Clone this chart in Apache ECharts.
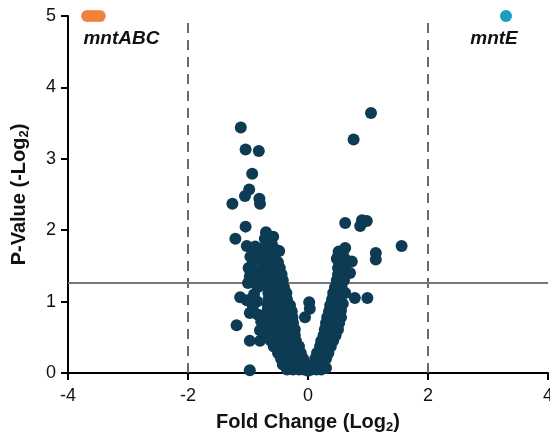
<!DOCTYPE html>
<html>
<head>
<meta charset="utf-8">
<script src="https://cdn.jsdelivr.net/npm/echarts@6/dist/echarts.min.js"></script>
<style>
  html, body { margin: 0; padding: 0; background: #fff; }
  #main { width: 550px; height: 437px; }
</style>
</head>
<body>
<div id="main"></div>
<script>
// x ticks / y ticks
const xTicks = [-4, -2, 0, 2, 4];
const yTicks = [0, 1, 2, 3, 4, 5];
const foldCutoffs = [-2, 2];
const pCutoff = 1.26;

// highlighted genes
const downGenes = [[-3.68, 5], [-3.61, 5], [-3.54, 5], [-3.47, 5]];
const downLabel = 'mntABC';
const upGenes = [[3.3, 5]];
const upLabel = 'mntE';

// scattered genes, upper left
const outLeft = [
  [-1.12, 3.44], [-1.04, 3.13], [-0.82, 3.11], [-0.93, 2.79], [-0.98, 2.57],
  [-1.05, 2.48], [-1.26, 2.37], [-0.81, 2.44], [-0.8, 2.37], [-1.04, 2.05],
  [-1.21, 1.88], [-1.02, 1.78], [-0.88, 1.77], [-0.7, 1.97], [-0.58, 1.91],
  [-0.48, 1.71], [-0.96, 1.63], [-0.99, 1.47],
  [-0.85, 1.65], [-0.92, 1.55], [-0.88, 1.42], [-0.97, 1.35], [-0.86, 1.3],
  [-1.0, 1.26], [-0.84, 1.2], [-0.9, 1.1], [-1.13, 1.06], [-1.02, 1.02],
  [-0.85, 1.0], [-0.92, 0.93], [-0.97, 0.84], [-0.84, 0.82], [-1.19, 0.67],
  [-0.97, 0.45], [-0.8, 0.45], [-0.97, 0.04], [-0.8, 0.6], [-0.78, 0.72]
];

// scattered genes, upper right
const outRight = [
  [1.05, 3.64], [0.76, 3.27], [0.62, 2.1], [0.9, 2.14], [0.98, 2.13],
  [0.87, 2.06], [1.56, 1.78], [1.13, 1.68], [1.13, 1.59], [0.62, 1.75],
  [0.51, 1.7], [0.48, 1.6], [0.73, 1.56], [0.7, 1.4], [0.78, 1.05],
  [0.99, 1.05], [0.55, 1.65], [0.6, 1.62],
  [0.02, 0.99], [0.03, 0.9], [-0.05, 0.78]
];

// dense left arm of the V
const leftArm = [
  [-0.35, 0.05], [-0.25, 0.05], [-0.15, 0.05], [-0.07, 0.05], [0.0, 0.03],
  [-0.42, 0.12], [-0.3, 0.12], [-0.2, 0.12], [-0.1, 0.12],
  [-0.45, 0.2], [-0.36, 0.2], [-0.26, 0.2], [-0.16, 0.2], [-0.08, 0.2],
  [-0.5, 0.28], [-0.4, 0.28], [-0.3, 0.28], [-0.2, 0.28], [-0.12, 0.28],
  [-0.57, 0.37], [-0.47, 0.37], [-0.37, 0.37], [-0.27, 0.37], [-0.15, 0.37],
  [-0.62, 0.45], [-0.52, 0.45], [-0.42, 0.45], [-0.32, 0.45], [-0.2, 0.45],
  [-0.66, 0.53], [-0.56, 0.53], [-0.46, 0.53], [-0.36, 0.53], [-0.22, 0.53],
  [-0.68, 0.61], [-0.58, 0.61], [-0.48, 0.61], [-0.38, 0.61], [-0.22, 0.61],
  [-0.7, 0.7], [-0.6, 0.7], [-0.5, 0.7], [-0.4, 0.7], [-0.25, 0.7],
  [-0.68, 0.78], [-0.58, 0.78], [-0.48, 0.78], [-0.38, 0.78], [-0.26, 0.78],
  [-0.68, 0.86], [-0.58, 0.86], [-0.48, 0.86], [-0.38, 0.86], [-0.27, 0.86],
  [-0.67, 0.95], [-0.57, 0.95], [-0.47, 0.95], [-0.37, 0.95], [-0.3, 0.95],
  [-0.66, 1.03], [-0.56, 1.03], [-0.46, 1.03], [-0.35, 1.03],
  [-0.66, 1.12], [-0.56, 1.12], [-0.46, 1.12], [-0.36, 1.12],
  [-0.68, 1.2], [-0.58, 1.2], [-0.48, 1.2], [-0.4, 1.2],
  [-0.7, 1.3], [-0.6, 1.3], [-0.5, 1.3], [-0.42, 1.3],
  [-0.72, 1.38], [-0.62, 1.38], [-0.52, 1.38], [-0.44, 1.38],
  [-0.74, 1.47], [-0.64, 1.47], [-0.54, 1.47], [-0.47, 1.47],
  [-0.74, 1.55], [-0.64, 1.55], [-0.55, 1.55], [-0.5, 1.55],
  [-0.76, 1.63], [-0.66, 1.63], [-0.58, 1.63],
  [-0.72, 1.72], [-0.62, 1.72], [-0.52, 1.72],
  [-0.7, 1.8], [-0.6, 1.8], [-0.62, 1.9], [-0.72, 1.88]
];

// dense right arm of the V
const rightArm = [
  [0.06, 0.05], [0.14, 0.05], [0.22, 0.05], [0.3, 0.07],
  [0.08, 0.12], [0.18, 0.12], [0.26, 0.12],
  [0.12, 0.2], [0.22, 0.2], [0.3, 0.2],
  [0.15, 0.28], [0.27, 0.28], [0.34, 0.28],
  [0.2, 0.37], [0.3, 0.37], [0.38, 0.37],
  [0.22, 0.45], [0.32, 0.45], [0.42, 0.45],
  [0.26, 0.53], [0.38, 0.53], [0.46, 0.53],
  [0.28, 0.61], [0.4, 0.61], [0.5, 0.61],
  [0.3, 0.7], [0.42, 0.7], [0.52, 0.7],
  [0.32, 0.78], [0.45, 0.78], [0.55, 0.78],
  [0.35, 0.86], [0.47, 0.86], [0.55, 0.88],
  [0.37, 0.95], [0.5, 0.95], [0.58, 0.97],
  [0.4, 1.03], [0.52, 1.03],
  [0.42, 1.12], [0.55, 1.12], [0.62, 1.12],
  [0.45, 1.2], [0.56, 1.2],
  [0.48, 1.3], [0.6, 1.3],
  [0.5, 1.38], [0.62, 1.38],
  [0.5, 1.47], [0.6, 1.47],
  [0.52, 1.55], [0.62, 1.55],
  [0.5, 1.63]
];

const allGenes = outLeft.concat(outRight, leftArm, rightArm);

const chart = echarts.init(document.getElementById('main'), null, { renderer: 'canvas' });

const fontFam = 'Liberation Sans, Arial, sans-serif';
const tickFont = { color: '#111', fontSize: 18, fontFamily: fontFam };
const titleRich = {
  t: { fontSize: 20, fontWeight: 'bold', color: '#111', fontFamily: fontFam },
  s: { fontSize: 13, fontWeight: 'bold', color: '#111', fontFamily: fontFam, padding: [10, 0, 0, 0] }
};

chart.setOption({
  animation: false,
  grid: { left: 68, right: 2, top: 16, bottom: 64, outerBoundsMode: 'none', containLabel: false },
  xAxis: {
    type: 'value',
    min: xTicks[0],
    max: xTicks[xTicks.length - 1],
    interval: 2,
    name: '{t|Fold Change (Log}{s|2}{t|)}',
    nameLocation: 'middle',
    nameGap: 38,
    nameTextStyle: { rich: titleRich },
    axisLine: { onZero: false, lineStyle: { color: '#000', width: 2 } },
    axisTick: { show: true, length: 7, lineStyle: { color: '#000', width: 2 } },
    axisLabel: Object.assign({ margin: 14 }, tickFont),
    splitLine: { show: false }
  },
  yAxis: {
    type: 'value',
    min: yTicks[0],
    max: yTicks[yTicks.length - 1],
    interval: 1,
    name: '{t|P-Value (-Log}{s|2}{t|)}',
    nameLocation: 'middle',
    nameGap: 37,
    nameTextStyle: { rich: titleRich },
    axisLine: { show: true, onZero: false, lineStyle: { color: '#000', width: 2 } },
    axisTick: { show: true, length: 7, lineStyle: { color: '#000', width: 2 } },
    axisLabel: Object.assign({ margin: 12 }, tickFont),
    splitLine: { show: false }
  },
  series: [
    {
      type: 'scatter',
      data: allGenes,
      symbolSize: 12,
      clip: false,
      itemStyle: { color: '#0c3b53', opacity: 1 },
      markLine: {
        silent: true,
        symbol: 'none',
        label: { show: false },
        data: [
          { xAxis: foldCutoffs[0], lineStyle: { type: [10, 7], color: '#6b6b6b', width: 2 } },
          { xAxis: foldCutoffs[1], lineStyle: { type: [10, 7], color: '#6b6b6b', width: 2 } },
          { yAxis: pCutoff, lineStyle: { type: 'solid', color: '#777', width: 2 } }
        ],
        z: 1
      },
      z: 3
    },
    {
      type: 'scatter',
      symbolSize: 12,
      clip: false,
      itemStyle: { color: '#f5803e', opacity: 1 },
      data: downGenes.map((p, i) => ({
        value: p,
        label: i === 1 ? {
          show: true, formatter: downLabel, position: 'bottom', offset: [30, 2],
          fontSize: 19, fontWeight: 'bold', fontStyle: 'italic', color: '#111',
          fontFamily: fontFam
        } : { show: false }
      })),
      z: 4
    },
    {
      type: 'scatter',
      symbolSize: 12,
      clip: false,
      itemStyle: { color: '#1a9dbf', opacity: 1 },
      data: upGenes.map(p => ({
        value: p,
        label: {
          show: true, formatter: upLabel, position: 'bottom', offset: [-12, 2],
          fontSize: 19, fontWeight: 'bold', fontStyle: 'italic', color: '#111',
          fontFamily: fontFam
        }
      })),
      z: 4
    }
  ]
});
</script>
</body>
</html>
